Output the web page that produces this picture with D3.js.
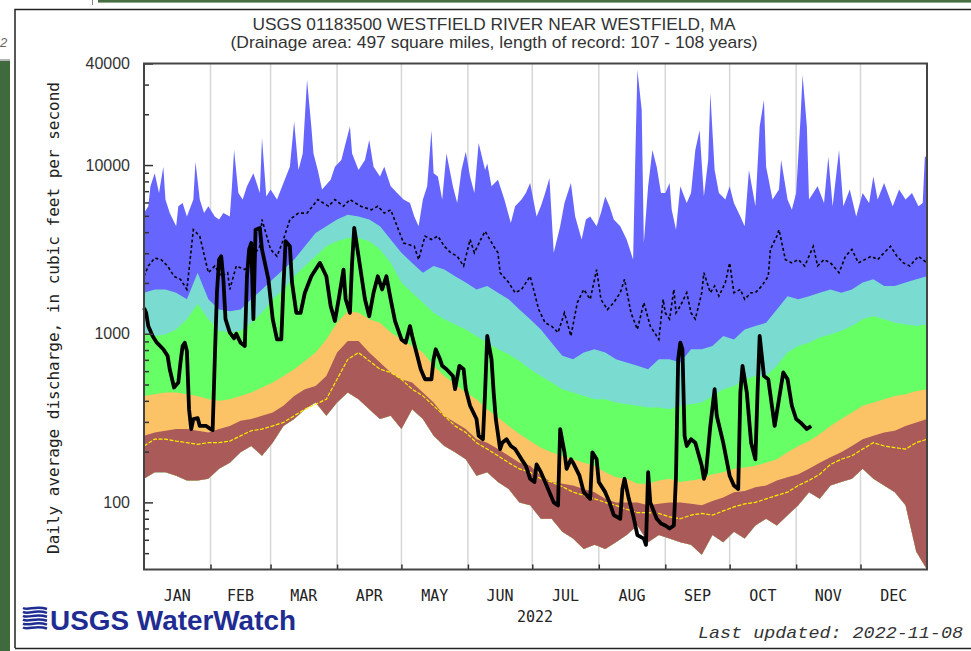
<!DOCTYPE html>
<html><head><meta charset="utf-8">
<script src="https://cdn.jsdelivr.net/npm/d3@7"></script>
<style>body{margin:0;background:#fff;}svg{display:block;}</style>
</head><body>
<svg id="c" width="971" height="651"></svg>
<script>
// ---------------- DATA (daily discharge, cubic feet per second) ----------------
const months = ["JAN","FEB","MAR","APR","MAY","JUN","JUL","AUG","SEP","OCT","NOV","DEC"];
const monthStarts = [0,31,59,90,120,151,181,212,243,273,304,334,365];
const yMajorTicks = [100,1000,10000,40000];
const yMinorTicks = [50,60,70,80,90,200,300,400,500,600,700,800,900,2000,3000,4000,5000,6000,7000,8000,9000,20000,30000];
const yearLabel = "2022";

// percentile bands, read every 5th day of the year (day 0 .. 365)
const bandDays = [0,5,10,15,20,25,30,35,40,45,50,55,60,65,70,75,80,85,90,95,100,105,110,115,120,125,130,135,140,145,150,155,160,165,170,175,180,185,190,195,200,205,210,215,220,225,230,235,240,245,250,255,260,265,270,275,280,285,290,295,300,305,310,315,320,325,330,335,340,345,350,355,360,365];
const minVals = [138,151,151,144,135,135,138,158,172,198,216,189,226,284,312,357,391,326,391,448,409,357,312,326,272,
  357,312,248,216,198,180,144,151,132,120,100,96,80,80,67,61,53,56,53,58,64,73,58,64,
  61,58,56,49,64,58,67,61,73,80,73,84,96,115,105,126,132,138,158,138,126,115,96,51,40];
const p10Vals = [248,260,266,272,272,266,260,272,284,305,312,326,341,374,428,469,490,561,773,905,905,773,675,589,537,
  513,448,391,326,298,272,237,226,207,189,172,165,144,132,129,126,120,115,105,100,100,100,96,98,
  100,100,98,96,102,107,115,117,123,126,135,141,147,158,172,185,198,216,237,248,260,266,284,298,312];
const p25Vals = [428,438,448,448,438,428,409,400,409,428,448,480,513,561,616,690,773,925,1160,1360,1330,1220,1160,1015,925,
  846,773,645,561,502,448,409,357,319,284,254,231,211,198,189,180,172,165,151,141,138,129,129,135,
  138,132,135,138,147,151,158,161,165,172,180,198,216,231,254,284,312,341,374,391,409,428,438,458,469];
const p75Vals = [1015,970,990,1060,1220,1500,1220,1040,1015,1040,1160,1330,1600,1830,2190,2520,2880,3300,3530,3700,3700,3530,3160,2630,2010,
  1750,1530,1330,1220,1135,1060,970,885,809,756,690,616,561,513,469,448,428,409,409,391,382,374,365,365,
  357,374,382,391,428,469,490,537,561,561,645,773,846,885,950,990,1040,1110,1220,1270,1220,1160,1135,1110,1135];
const p90Vals = [1750,1830,1830,1750,1600,2300,1600,1390,1360,1390,1600,1830,2100,2400,2750,3300,3960,4330,4750,5070,4960,4750,4330,3620,3020,
  2630,2300,2520,2400,2190,2010,1830,1920,1750,1600,1390,1220,1060,885,739,705,773,809,773,705,675,645,616,705,
  705,675,809,809,846,970,925,1060,1110,1160,1390,1670,1600,1670,1750,1830,1750,1830,2010,2100,1920,1920,2010,2100,2190];
const yellowVals = [216,237,237,231,226,221,226,226,231,248,266,272,284,298,326,357,382,409,537,705,773,690,616,589,537,
  469,428,374,326,284,260,226,207,189,172,158,151,138,132,124,115,110,105,100,96,91,87,87,86,
  82,80,84,86,84,89,94,98,100,105,110,115,126,135,147,168,180,189,207,226,216,211,207,226,237];

// maximum of record
const maxDays = [0,2,3,5,7,9,10,12,15,16,18,20,23,24,26,28,30,33,35,37,40,41,42,44,46,48,51,54,55,57,59,62,65,68,70,72,74,76,78,79,81,83,87,89,92,94,96,97,100,103,105,107,110,112,115,118,
  121,124,126,128,130,132,134,135,137,139,141,144,146,148,150,152,154,156,159,160,162,165,168,171,173,176,178,180,183,185,187,189,191,194,196,199,201,204,206,208,211,213,215,217,219,222,225,228,229,230,232,233,235,237,239,241,
  243,245,246,248,250,253,255,257,259,261,263,264,266,268,271,273,275,278,280,282,285,287,289,290,293,296,297,300,302,304,306,307,309,310,314,317,319,321,324,326,329,332,335,338,340,342,345,349,352,355,358,361,363,364,365];
const maxVals = [5190,5700,7480,8940,6820,9780,6240,5190,4330,5700,5960,4960,6240,10450,6240,5190,5700,4960,4750,5190,4960,7480,12300,6820,6240,7480,8940,6820,14500,6520,7150,6240,7820,9780,18100,9350,11700,32000,16900,11700,9350,7150,8180,9780,10700,13500,16900,11700,9350,10700,14100,9780,8560,9780,7480,6820,
  6240,5960,4960,4330,6240,7480,16100,8940,8560,6240,11700,7480,5960,9350,12000,8560,6820,13500,9350,10230,7480,8180,6240,4540,5700,6240,6820,7820,4960,5700,6820,8370,3020,4330,5960,7820,4960,3620,4750,4960,4330,5190,6520,5700,4750,4330,3620,2750,10700,36600,21300,3450,7480,12300,9780,6820,
  6820,7820,5430,4140,7480,5960,6820,12300,16100,6520,10700,26700,9350,6820,6240,7480,5960,4960,4330,9350,5700,16900,24400,9780,6240,7150,10700,6240,5430,6820,18500,34200,16900,6240,7480,5960,11200,5700,12300,5700,7150,4960,6820,5960,8560,6240,7820,5700,7150,6240,6820,5700,5960,11200,11200];

// mean daily flow (dotted)
const meanDays = [0,2,5,8,11,14,17,20,23,26,30,33,36,39,40,43,47,51,54,55,59,62,65,68,72,76,81,86,89,93,96,101,106,109,112,115,118,
  121,126,128,131,134,137,140,143,146,149,152,154,157,159,163,165,166,170,173,176,180,182,184,187,190,193,196,199,202,205,208,211,213,216,219,222,224,227,230,233,236,240,242,
  243,245,247,248,250,253,255,257,260,261,264,266,268,271,273,275,278,280,283,285,288,291,292,295,296,299,302,305,308,312,314,317,320,324,327,330,333,336,339,342,345,348,351,354,357,361,365];
const meanVals = [2190,2520,2810,2750,2520,2190,2100,1830,4140,3790,2300,2520,2190,2300,1830,2520,2400,2880,3300,4750,3160,2880,3620,4750,5190,5190,6240,5700,6240,5700,6240,5700,5430,5700,5190,5430,4330,
  3450,3300,2750,3790,3620,3790,3300,3020,2880,2520,3620,3020,3620,4050,3300,3020,2300,2010,1750,1830,2190,1750,1390,1160,1110,1015,1330,970,1530,1830,1600,2400,1600,1390,1530,1750,2100,1330,1060,1530,1110,925,1600,
  1330,1220,1830,1330,1460,1750,1330,1220,1750,2300,1750,1920,1670,2010,2630,1750,1830,1600,1750,1750,1920,2190,3160,3790,4140,2750,2630,2750,2520,3300,2520,2750,2630,2300,2880,3160,2630,2750,2880,2750,3020,3300,2880,2630,2520,2880,2630];

// 2022 daily flow (thick black)
const flowDays = [0,1,2,4,6,9,11,12,14,16,17,18,19,20,21,22,23,25,26,29,31,32,33,34,35,36,37,38,40,42,43,45,47,48,49,50,51,52,54,55,58,60,62,64,65,66,68,69,71,73,75,78,80,82,85,87,89,91,93,94,96,97,98,100,103,105,107,109,111,113,115,117,120,122,
  124,125,127,129,131,134,135,136,138,139,141,144,145,147,149,150,152,155,156,158,159,160,162,163,164,166,167,169,171,173,176,178,180,182,183,185,187,189,191,193,194,196,197,199,200,203,205,208,209,211,212,215,217,219,222,223,224,226,228,230,233,234,235,236,239,241,
  243,245,247,248,249,250,251,252,253,255,257,260,261,262,264,266,267,270,273,275,277,278,279,281,283,285,286,287,289,291,294,296,298,300,302,304,306,309,311];
const flowVals = [1420,1330,1110,970,885,809,739,616,480,513,675,846,885,790,357,272,312,316,284,284,272,268,705,1750,2750,2880,2100,1220,1015,940,1000,885,846,2190,3160,3450,1220,4140,4240,3160,2100,1220,925,925,1920,3540,3300,2010,1330,1330,1750,2190,2400,2630,2190,1460,1190,1670,2400,1600,1330,2630,4240,2880,1600,1270,1750,2190,1830,2190,1600,1190,925,885,
  1110,970,773,616,537,537,705,809,705,645,616,561,469,645,616,469,374,312,248,237,448,970,705,448,312,207,226,237,216,207,180,165,138,132,168,151,132,115,100,96,272,198,158,180,172,144,115,105,198,180,132,115,100,84,80,120,138,105,84,64,61,56,151,100,80,75,
  73,70,73,144,705,885,809,248,216,237,226,165,138,151,284,469,326,226,144,126,120,448,645,448,226,180,448,970,561,537,284,409,589,537,374,312,298,272,284];

// ---------------- DRAWING ----------------
const svg = d3.select("#c");
const L = 144, R = 927, T = 63.5, B = 569.5;
const x = d3.scaleLinear().domain([0, 365]).range([L, R]);
const y = d3.scaleLog().domain([40, 40000]).range([B, T]);

// page decorations (surrounding screenshot)
svg.append("rect").attr("x", 98).attr("y", 0).attr("width", 873).attr("height", 2.6).attr("fill", "#456f42");
svg.append("line").attr("x1", 92.5).attr("x2", 92.5).attr("y1", 0).attr("y2", 5).attr("stroke", "#888");
svg.append("rect").attr("x", 0).attr("y", 61).attr("width", 10).attr("height", 590).attr("fill", "#3f6a3d");
svg.append("line").attr("x1", 0).attr("x2", 10).attr("y1", 60).attr("y2", 60).attr("stroke", "#666");
svg.append("text").attr("x", 0).attr("y", 47).attr("font-family", "Liberation Sans, Arial, sans-serif")
  .attr("font-style", "italic").attr("font-size", 13).attr("fill", "#666").text("2");
svg.append("path").attr("d", "M15,648 V9.5 H971").attr("fill", "none").attr("stroke", "#222").attr("stroke-width", 1.5);
svg.append("line").attr("x1", 15).attr("x2", 971).attr("y1", 648.5).attr("y2", 648.5).attr("stroke", "#222").attr("stroke-width", 1.5);

// titles
svg.append("text").attr("x", 494).attr("y", 29.5).attr("text-anchor", "middle")
  .attr("font-family", "Liberation Sans, Arial, sans-serif").attr("font-size", 17).attr("fill", "#333")
  .attr("textLength", 483).attr("lengthAdjust", "spacingAndGlyphs")
  .text("USGS 01183500 WESTFIELD RIVER NEAR WESTFIELD, MA");
svg.append("text").attr("x", 494).attr("y", 47.5).attr("text-anchor", "middle")
  .attr("font-family", "Liberation Sans, Arial, sans-serif").attr("font-size", 17).attr("fill", "#333")
  .attr("textLength", 527).attr("lengthAdjust", "spacingAndGlyphs")
  .text("(Drainage area: 497 square miles, length of record: 107 - 108 years)");

// vertical month gridlines
svg.append("g").selectAll("line").data(monthStarts.slice(1, 12)).join("line")
  .attr("x1", d => x(d)).attr("x2", d => x(d)).attr("y1", T).attr("y2", B)
  .attr("stroke", "#d6d6d6").attr("stroke-width", 1.5);

// clip: region above the minimum line
const defs = svg.append("defs");
defs.append("clipPath").attr("id", "aboveMin").append("path")
  .attr("d", d3.area().x((d, i) => x(bandDays[i])).y0(T).y1(d => y(d))(minVals));

const bands = svg.append("g").attr("clip-path", "url(#aboveMin)");
const idx = n => d3.range(n);
bands.append("path")
  .attr("d", d3.area().x(i => x(maxDays[i])).y0(B).y1(i => y(maxVals[i]))(idx(maxDays.length)))
  .attr("fill", "#6666ff");
const bandLayers = [[p90Vals, "#7adcd0"], [p75Vals, "#66ff66"], [p25Vals, "#fcc266"], [p10Vals, "#aa5a58"]];
bandLayers.forEach(([vals, col]) => {
  bands.append("path")
    .attr("d", d3.area().x((d, i) => x(bandDays[i])).y0(B).y1(d => y(d))(vals))
    .attr("fill", col);
});

// yellow line
svg.append("path")
  .attr("d", d3.line().x((d, i) => x(bandDays[i])).y(d => y(d))(yellowVals))
  .attr("fill", "none").attr("stroke", "#ffef00").attr("stroke-width", 1.2).attr("stroke-dasharray", "4,1.5");

// mean (dotted)
svg.append("path")
  .attr("d", d3.line().x(i => x(meanDays[i])).y(i => y(meanVals[i]))(idx(meanDays.length)))
  .attr("fill", "none").attr("stroke", "#000").attr("stroke-width", 1.6).attr("stroke-dasharray", "3,2.5");

// 2022 flow
svg.append("path")
  .attr("d", d3.line().x(i => x(flowDays[i])).y(i => y(flowVals[i]))(idx(flowDays.length)))
  .attr("fill", "none").attr("stroke", "#000").attr("stroke-width", 3.8).attr("stroke-linejoin", "round");

// axes
const yMajor = svg.append("g").attr("transform", `translate(${L},0)`)
  .call(d3.axisLeft(y).tickValues(yMajorTicks).tickSize(-9).tickPadding(14).tickFormat(d3.format("d")));
yMajor.select(".domain").remove();
yMajor.selectAll("line").attr("stroke", "#333").attr("stroke-width", 1.5);
yMajor.selectAll("text").attr("font-family", "Liberation Sans, Arial, sans-serif").attr("font-size", 16).attr("fill", "#333");
const yMinor = svg.append("g").attr("transform", `translate(${L},0)`)
  .call(d3.axisLeft(y).tickValues(yMinorTicks).tickSize(-5).tickFormat(""));
yMinor.select(".domain").remove();
yMinor.selectAll("text").remove();
yMinor.selectAll("line").attr("stroke", "#333").attr("stroke-width", 1.5);

const xAx = svg.append("g").attr("transform", `translate(0,${B})`)
  .call(d3.axisBottom(x).tickValues(monthStarts.slice(1, 12)).tickSize(-5).tickFormat(""));
xAx.select(".domain").remove();
xAx.selectAll("text").remove();
xAx.selectAll("line").attr("stroke", "#333").attr("stroke-width", 1.5);

// plot frame
svg.append("rect").attr("x", L).attr("y", T).attr("width", R - L).attr("height", B - T)
  .attr("fill", "none").attr("stroke", "#444").attr("stroke-width", 2);

// month labels
svg.append("g").selectAll("text").data(months).join("text")
  .attr("x", (d, i) => x((monthStarts[i] + monthStarts[i + 1]) / 2)).attr("y", 600.5)
  .attr("text-anchor", "middle").attr("font-family", "DejaVu Sans Mono, monospace").attr("font-size", 15)
  .attr("fill", "#222").text(d => d);
svg.append("text").attr("x", 535).attr("y", 622).attr("text-anchor", "middle")
  .attr("font-family", "DejaVu Sans Mono, monospace").attr("font-size", 15).attr("fill", "#222").text(yearLabel);

// y-axis title
svg.append("text").attr("transform", "translate(59,318) rotate(-90)").attr("text-anchor", "middle")
  .attr("font-family", "DejaVu Sans Mono, monospace").attr("font-size", 16).attr("fill", "#222")
  .text("Daily average discharge, in cubic feet per second");

// last updated
svg.append("text").attr("x", 963).attr("y", 638).attr("text-anchor", "end")
  .attr("font-family", "Liberation Mono, Courier New, monospace").attr("font-style", "italic").attr("font-size", 17)
  .attr("fill", "#333").attr("textLength", 265).attr("lengthAdjust", "spacingAndGlyphs")
  .text("Last updated: 2022-11-08");

// USGS WaterWatch logo
const logo = svg.append("g");
for (let k = 0; k < 6; k++) {
  const yy = 608 + k * 3.9;
  logo.append("path")
    .attr("d", `M23,${yy} C29,${yy + 3} 35,${yy - 3} 47,${yy + 1}`)
    .attr("fill", "none").attr("stroke", "#1f2d93").attr("stroke-width", 2.5);
}
logo.append("text").attr("x", 50).attr("y", 629.5).attr("font-family", "Liberation Sans, Arial, sans-serif")
  .attr("font-weight", "bold").attr("font-size", 28).attr("fill", "#1f2d93")
  .attr("textLength", 246).attr("lengthAdjust", "spacingAndGlyphs").text("USGS WaterWatch");
</script>
</body></html>
